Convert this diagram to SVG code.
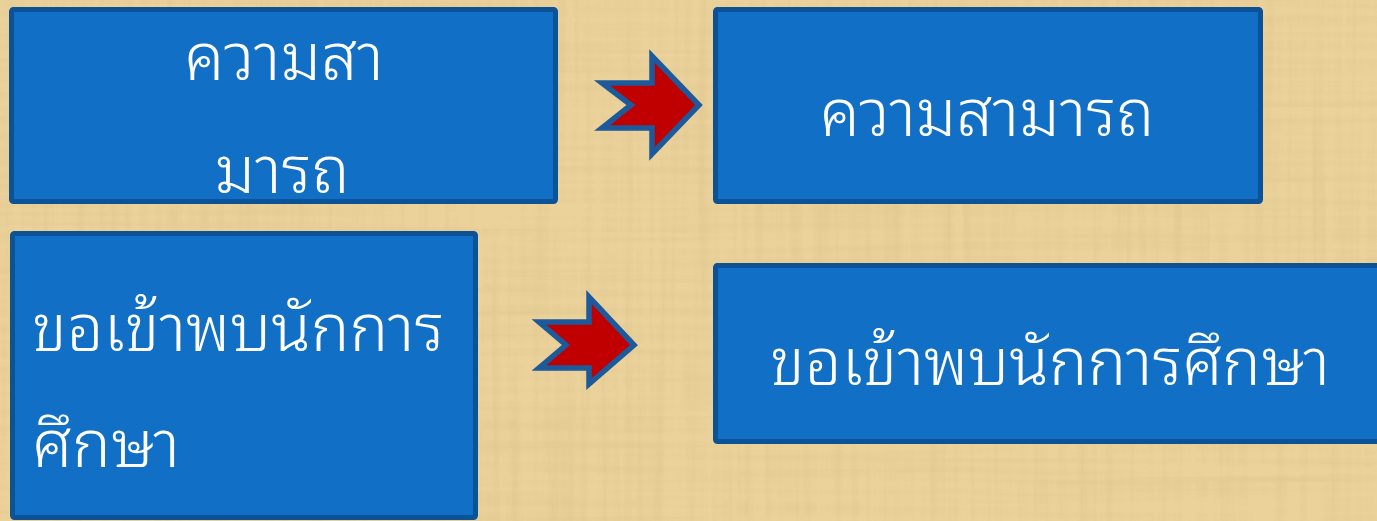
<svg xmlns="http://www.w3.org/2000/svg" width="1377" height="521" viewBox="0 0 1377 521">
<defs>
<filter id="papyrus" x="0" y="0" width="100%" height="100%">
<feTurbulence type="fractalNoise" baseFrequency="0.003 0.12" numOctaves="3" seed="3" result="h"/>
<feTurbulence type="fractalNoise" baseFrequency="0.12 0.003" numOctaves="3" seed="7" result="v"/>
<feBlend in="h" in2="v" mode="multiply" result="m"/>
<feColorMatrix in="m" type="matrix" values="0 0 0 0 0.60  0 0 0 0 0.45  0 0 0 0 0.22  -1.5 0 0 0 0.80" result="c"/>
<feComposite in="c" in2="SourceGraphic" operator="in"/>
</filter>
<style>
.box{fill:#1170c6;stroke:#0b5296;stroke-width:5}
.arrow{fill:#c00000;stroke:#1d5a9c;stroke-width:5.5;stroke-linejoin:miter}
.t{fill:#ffffff;font-family:"Noto Sans Thai Looped","Noto Sans Thai","Leelawadee UI","Noto Sans","DejaVu Sans",sans-serif;font-size:65px;font-weight:300;text-anchor:middle}
.tl{fill:#ffffff;font-family:"Noto Sans Thai Looped","Noto Sans Thai","Leelawadee UI","Noto Sans","DejaVu Sans",sans-serif;font-size:65px;font-weight:300;text-anchor:start}
</style>
</defs>
<rect x="0" y="0" width="1377" height="521" fill="#ebd29a"/>
<rect x="0" y="0" width="1377" height="521" fill="#ebd29a" filter="url(#papyrus)" opacity="0.45"/>
<g id="node-1">
<rect class="box" x="11.5" y="9.5" width="544" height="192" rx="2"/>
<text class="t" x="284" y="80">ความสา</text>
<text class="t" x="282" y="193">มารถ</text>
</g>
<g id="node-2">
<rect class="box" x="715.5" y="9.5" width="545" height="192" rx="2"/>
<text class="t" x="987" y="136">ความสามารถ</text>
</g>
<g id="node-3">
<rect class="box" x="12.5" y="233.5" width="463" height="284" rx="2"/>
<text class="tl" x="32" y="351">ขอเข้าพบนักการ</text>
<text class="tl" x="32" y="467">ศึกษา</text>
</g>
<g id="node-4">
<rect class="box" x="715.5" y="265.5" width="670" height="176" rx="2"/>
<text class="t" x="1050" y="385">ขอเข้าพบนักการศึกษา</text>
</g>
<g id="connectors">
<polygon class="arrow" points="602,83 652,83 652,56 699,105 652,154 652,128 602,128 631,105"/>
<polygon class="arrow" points="539,322 589,322 589,297 634,345 589,384 589,368 539,368 566,345"/>
</g>
</svg>
